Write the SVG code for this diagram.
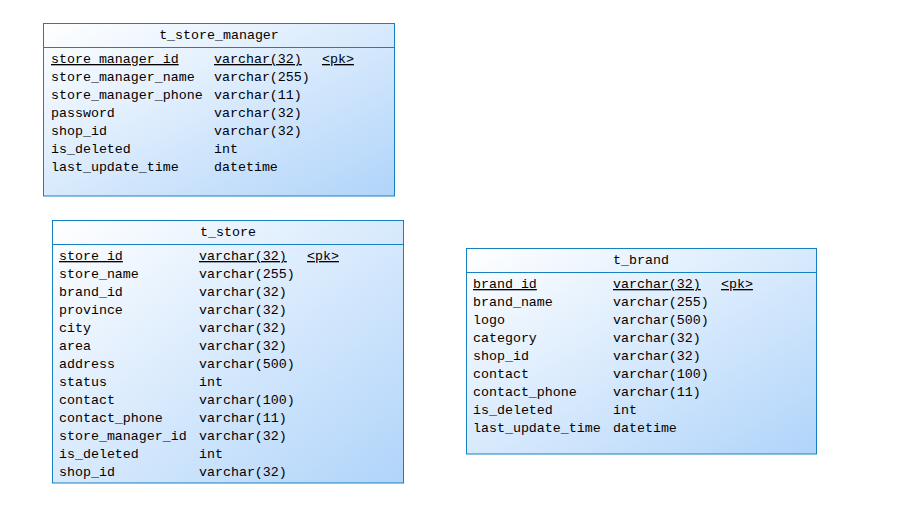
<svg xmlns="http://www.w3.org/2000/svg" width="907" height="510" viewBox="0 0 907 510">
<defs>
<linearGradient id="g" x1="0" y1="0" x2="1" y2="1">
<stop offset="0" stop-color="#ffffff"/>
<stop offset="1" stop-color="#b0d4fa"/>
</linearGradient>
<style>
.box{fill:url(#g);stroke:#1580c2;stroke-width:1}
.sep{stroke:#1580c2;stroke-width:1}
text{font-family:"Liberation Mono","DejaVu Sans Mono",monospace;font-size:13.3px;fill:#000}
.t{text-anchor:middle}
.pk{text-decoration:underline}
</style>
</defs>
<rect width="907" height="510" fill="#fff"/>
<g id="connectors"></g>
<g id="t_store_manager">
<rect class="box" x="43.5" y="23.5" width="351" height="172.5"/>
<line class="sep" x1="43.5" y1="47.5" x2="394.5" y2="47.5"/>
<text class="t" x="219" y="39">t_store_manager</text>
<text class="pk" x="51" y="63">store_manager_id</text><text class="pk" x="214" y="63">varchar(32)</text><text class="pk" x="322" y="63">&lt;pk&gt;</text>
<text x="51" y="81">store_manager_name</text><text x="214" y="81">varchar(255)</text>
<text x="51" y="99">store_manager_phone</text><text x="214" y="99">varchar(11)</text>
<text x="51" y="117">password</text><text x="214" y="117">varchar(32)</text>
<text x="51" y="135">shop_id</text><text x="214" y="135">varchar(32)</text>
<text x="51" y="153">is_deleted</text><text x="214" y="153">int</text>
<text x="51" y="171">last_update_time</text><text x="214" y="171">datetime</text>
</g>
<g id="t_store">
<rect class="box" x="52.5" y="220.5" width="351" height="262.5"/>
<line class="sep" x1="52.5" y1="244.5" x2="403.5" y2="244.5"/>
<text class="t" x="228" y="236">t_store</text>
<text class="pk" x="59" y="260">store_id</text><text class="pk" x="199" y="260">varchar(32)</text><text class="pk" x="307" y="260">&lt;pk&gt;</text>
<text x="59" y="278">store_name</text><text x="199" y="278">varchar(255)</text>
<text x="59" y="296">brand_id</text><text x="199" y="296">varchar(32)</text>
<text x="59" y="314">province</text><text x="199" y="314">varchar(32)</text>
<text x="59" y="332">city</text><text x="199" y="332">varchar(32)</text>
<text x="59" y="350">area</text><text x="199" y="350">varchar(32)</text>
<text x="59" y="368">address</text><text x="199" y="368">varchar(500)</text>
<text x="59" y="386">status</text><text x="199" y="386">int</text>
<text x="59" y="404">contact</text><text x="199" y="404">varchar(100)</text>
<text x="59" y="422">contact_phone</text><text x="199" y="422">varchar(11)</text>
<text x="59" y="440">store_manager_id</text><text x="199" y="440">varchar(32)</text>
<text x="59" y="458">is_deleted</text><text x="199" y="458">int</text>
<text x="59" y="476">shop_id</text><text x="199" y="476">varchar(32)</text>
</g>
<g id="t_brand">
<rect class="box" x="466.5" y="248.5" width="350" height="205.5"/>
<line class="sep" x1="466.5" y1="272.5" x2="816.5" y2="272.5"/>
<text class="t" x="641" y="264">t_brand</text>
<text class="pk" x="473" y="288">brand_id</text><text class="pk" x="613" y="288">varchar(32)</text><text class="pk" x="721" y="288">&lt;pk&gt;</text>
<text x="473" y="306">brand_name</text><text x="613" y="306">varchar(255)</text>
<text x="473" y="324">logo</text><text x="613" y="324">varchar(500)</text>
<text x="473" y="342">category</text><text x="613" y="342">varchar(32)</text>
<text x="473" y="360">shop_id</text><text x="613" y="360">varchar(32)</text>
<text x="473" y="378">contact</text><text x="613" y="378">varchar(100)</text>
<text x="473" y="396">contact_phone</text><text x="613" y="396">varchar(11)</text>
<text x="473" y="414">is_deleted</text><text x="613" y="414">int</text>
<text x="473" y="432">last_update_time</text><text x="613" y="432">datetime</text>
</g>
</svg>
